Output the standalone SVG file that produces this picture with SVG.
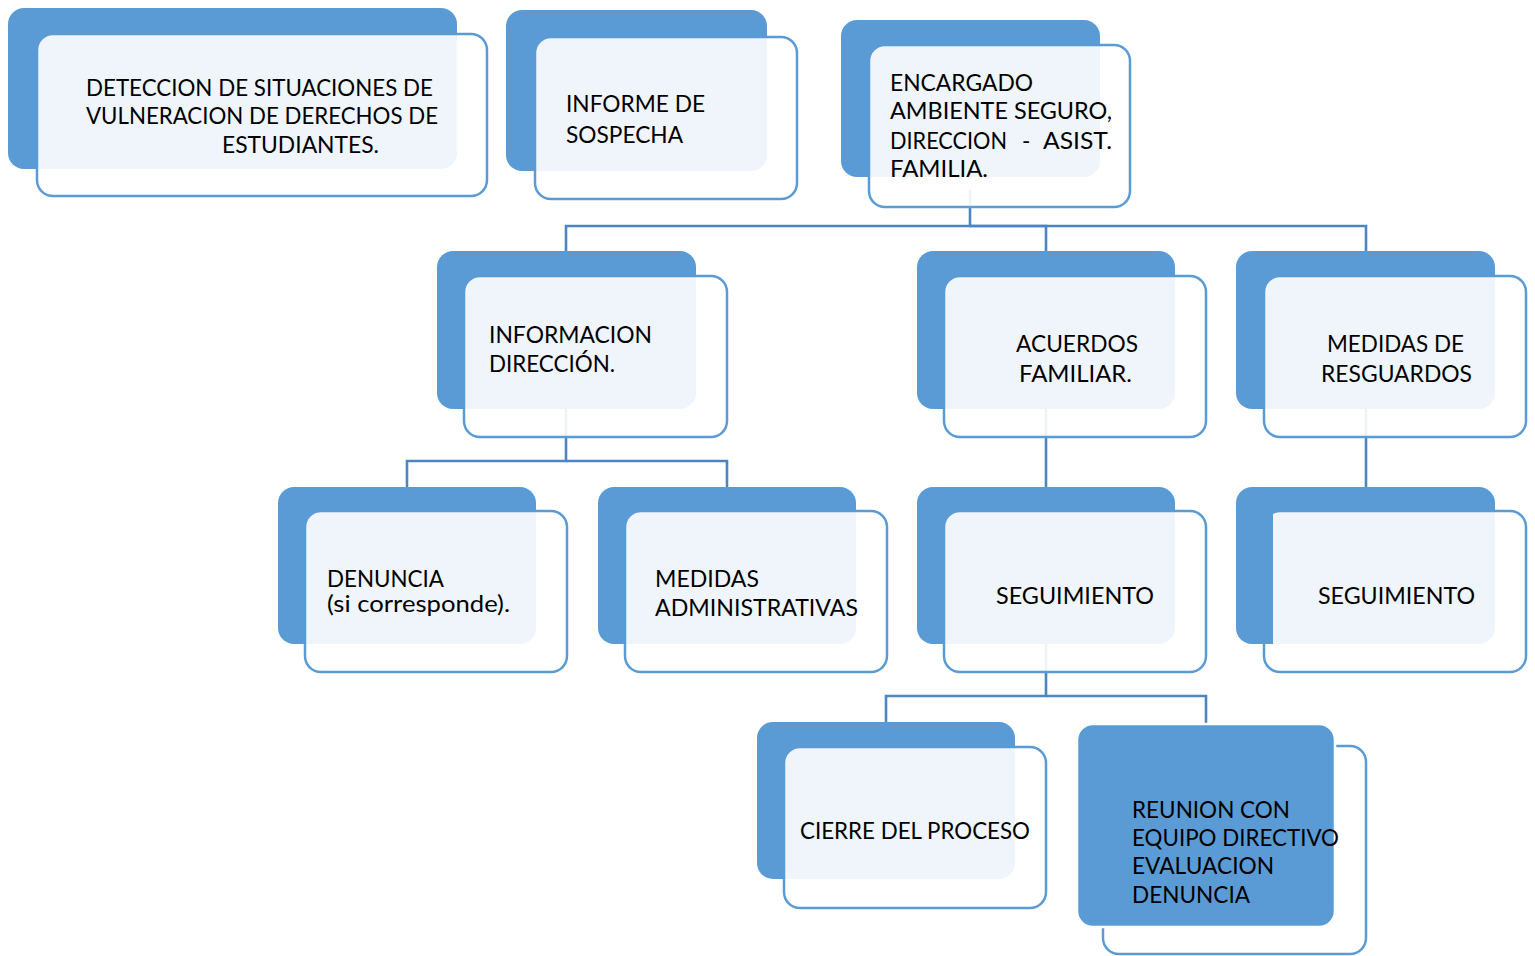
<svg xmlns="http://www.w3.org/2000/svg" width="1535" height="956" viewBox="0 0 1535 956">
<style>
.bg{fill:#ffffff}
.back{fill:#5B9BD5;stroke:none}
.backw{fill:#5B9BD5;stroke:#ffffff;stroke-width:2.5}
.front{fill:#ffffff;fill-opacity:0.9;stroke:#5B9BD5;stroke-width:2.5}
.frontline{fill:none;stroke:#5B9BD5;stroke-width:2.5}
.frontfill{fill:#ffffff;fill-opacity:0.9;stroke:none}
.conn{fill:none;stroke:#4D85C2;stroke-width:2.6}
text{font-family:Lato,"Liberation Sans",sans-serif;font-size:22.5px;fill:#000000}
</style>
<rect class="bg" x="0" y="0" width="1535" height="956"/>
<g id="connectors">
<path class="conn" d="M970,190 V226 H566 V251"/>
<path class="conn" d="M970,226 H1046 V251"/>
<path class="conn" d="M970,226 H1366 V251"/>
<path class="conn" d="M566,400 V461 H407 V487"/>
<path class="conn" d="M566,461 H727 V487"/>
<path class="conn" d="M1046,400 V487"/>
<path class="conn" d="M1366,400 V487"/>
<path class="conn" d="M1046,640 V696 H886 V722"/>
<path class="conn" d="M1046,696 H1206 V724"/>
</g>
<g id="node-deteccion">
<rect class="back" x="8" y="8" width="449" height="161" rx="16"/>
<rect class="front" x="37" y="34" width="450" height="162" rx="16"/>
<text x="86" y="96" textLength="347" lengthAdjust="spacingAndGlyphs">DETECCION DE SITUACIONES DE</text>
<text x="86" y="124" textLength="352" lengthAdjust="spacingAndGlyphs">VULNERACION DE DERECHOS DE</text>
<text x="222" y="153" textLength="157" lengthAdjust="spacingAndGlyphs">ESTUDIANTES.</text>
</g>
<g id="node-informe">
<rect class="back" x="506" y="10" width="261" height="161" rx="16"/>
<rect class="front" x="535" y="37" width="262" height="162" rx="16"/>
<text x="566" y="112" textLength="139" lengthAdjust="spacingAndGlyphs">INFORME DE</text>
<text x="566" y="143" textLength="117" lengthAdjust="spacingAndGlyphs">SOSPECHA</text>
</g>
<g id="node-encargado">
<rect class="back" x="841" y="20" width="259" height="157" rx="16"/>
<rect class="front" x="869" y="45" width="261" height="162" rx="16"/>
<text x="890" y="91" textLength="143" lengthAdjust="spacingAndGlyphs">ENCARGADO</text>
<text x="890" y="119" textLength="222" lengthAdjust="spacingAndGlyphs">AMBIENTE SEGURO,</text>
<text y="149"><tspan x="890" textLength="117" lengthAdjust="spacingAndGlyphs">DIRECCION</tspan><tspan x="1022">-</tspan><tspan x="1043" textLength="69" lengthAdjust="spacingAndGlyphs">ASIST.</tspan></text>
<text x="890" y="177" textLength="98" lengthAdjust="spacingAndGlyphs">FAMILIA.</text>
</g>
<g id="node-informacion">
<rect class="back" x="437" y="251" width="259" height="158" rx="16"/>
<rect class="front" x="464" y="276" width="263" height="161" rx="16"/>
<text x="489" y="343" textLength="163" lengthAdjust="spacingAndGlyphs">INFORMACION</text>
<text x="489" y="372" textLength="126" lengthAdjust="spacingAndGlyphs">DIRECCIÓN.</text>
</g>
<g id="node-acuerdos">
<rect class="back" x="917" y="251" width="258" height="158" rx="16"/>
<rect class="front" x="944" y="276" width="262" height="161" rx="16"/>
<text x="1016" y="352" textLength="122" lengthAdjust="spacingAndGlyphs">ACUERDOS</text>
<text x="1019" y="382" textLength="113" lengthAdjust="spacingAndGlyphs">FAMILIAR.</text>
</g>
<g id="node-medidas-resguardos">
<rect class="back" x="1236" y="251" width="259" height="158" rx="16"/>
<rect class="front" x="1264" y="276" width="262" height="161" rx="16"/>
<text x="1327" y="352" textLength="137" lengthAdjust="spacingAndGlyphs">MEDIDAS DE</text>
<text x="1321" y="382" textLength="151" lengthAdjust="spacingAndGlyphs">RESGUARDOS</text>
</g>
<g id="node-denuncia">
<rect class="back" x="278" y="487" width="258" height="157" rx="16"/>
<rect class="front" x="305" y="511" width="262" height="161" rx="16"/>
<text x="327" y="587" textLength="117" lengthAdjust="spacingAndGlyphs">DENUNCIA</text>
<text x="327" y="612" textLength="183" lengthAdjust="spacingAndGlyphs">(si corresponde).</text>
</g>
<g id="node-medidas-admin">
<rect class="back" x="598" y="487" width="258" height="157" rx="16"/>
<rect class="front" x="625" y="511" width="262" height="161" rx="16"/>
<text x="655" y="587" textLength="104" lengthAdjust="spacingAndGlyphs">MEDIDAS</text>
<text x="655" y="616" textLength="203" lengthAdjust="spacingAndGlyphs">ADMINISTRATIVAS</text>
</g>
<g id="node-seguimiento-1">
<rect class="back" x="917" y="487" width="258" height="157" rx="16"/>
<rect class="front" x="944" y="511" width="262" height="161" rx="16"/>
<text x="996" y="604" textLength="158" lengthAdjust="spacingAndGlyphs">SEGUIMIENTO</text>
</g>
<g id="node-seguimiento-2">
<rect class="back" x="1236" y="487" width="259" height="157" rx="16"/>
<path class="frontfill" d="M1273,511 H1510 A16,16 0 0 1 1526,527 V656 A16,16 0 0 1 1510,672 H1280 A16,16 0 0 1 1264,656 V644 H1273 Z"/>
<rect class="frontline" x="1264" y="511" width="262" height="161" rx="16"/>
<text x="1318" y="604" textLength="157" lengthAdjust="spacingAndGlyphs">SEGUIMIENTO</text>
</g>
<g id="node-cierre">
<rect class="back" x="757" y="722" width="258" height="157" rx="16"/>
<rect class="front" x="784" y="747" width="262" height="161" rx="16"/>
<text x="800" y="839" textLength="230" lengthAdjust="spacingAndGlyphs">CIERRE DEL PROCESO</text>
</g>
<g id="node-reunion">
<rect class="front" x="1103" y="746" width="263" height="208" rx="16"/>
<rect class="backw" x="1077" y="724" width="258" height="203" rx="16"/>
<text x="1132" y="818" textLength="158" lengthAdjust="spacingAndGlyphs">REUNION CON</text>
<text x="1132" y="846" textLength="207" lengthAdjust="spacingAndGlyphs">EQUIPO DIRECTIVO</text>
<text x="1132" y="874" textLength="142" lengthAdjust="spacingAndGlyphs">EVALUACION</text>
<text x="1132" y="903" textLength="118" lengthAdjust="spacingAndGlyphs">DENUNCIA</text>
</g>
</svg>
